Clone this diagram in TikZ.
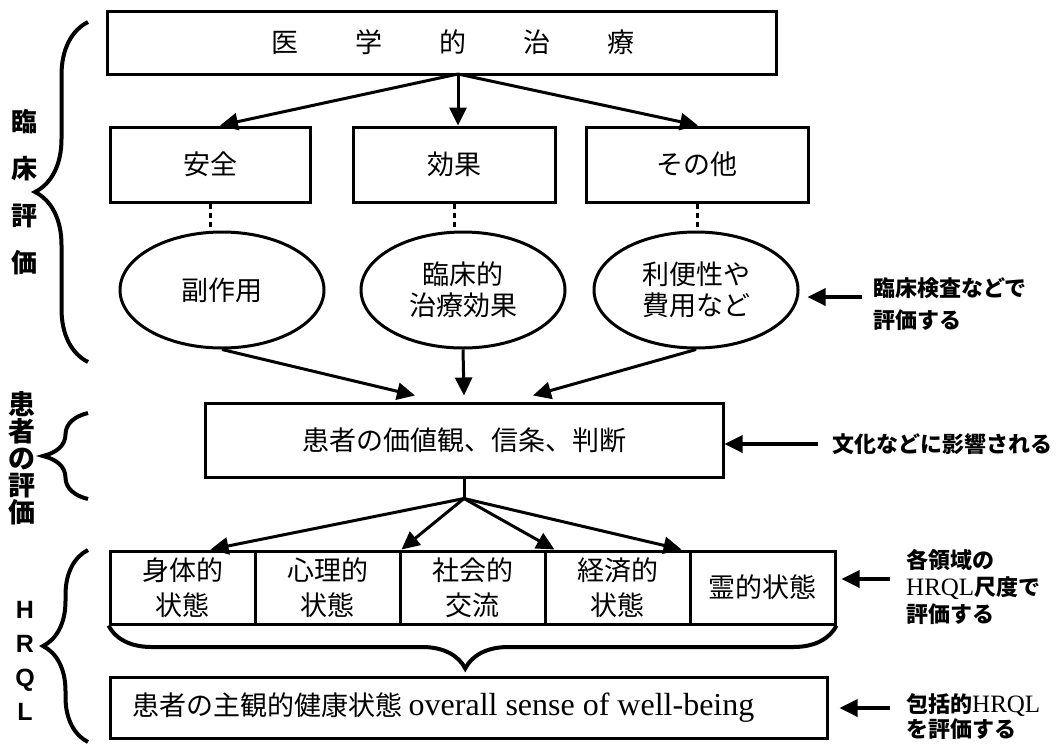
\documentclass[tikz,border=0pt]{standalone}
\usepackage{fontspec}
\setmainfont{Noto Sans CJK JP}
\newfontfamily\romanfont{Liberation Serif}
\newfontfamily\headfont{Liberation Sans}
\usetikzlibrary{positioning,chains,shapes.geometric,arrows.meta,decorations.pathreplacing}
\newcommand{\boxsize}{\fontsize{27pt}{31pt}\selectfont}
\tikzset{
  block/.style={ % plain rectangle with text
    draw, rectangle, line width=3pt, inner sep=0pt, align=center,
    font=\boxsize
  },
  oval/.style={ % ellipse of the evaluation row
    draw, ellipse, line width=3pt, inner sep=0pt, align=center,
    minimum width=204pt, minimum height=116pt, font=\boxsize
  },
  brick/.style={ % one HRQL domain
    block, minimum width=145pt, minimum height=73pt,
    font=\fontsize{27pt}{35pt}\selectfont
  },
  note/.style={ % comment text on the right
    anchor=west, inner sep=0pt, align=left,
    font=\bfseries\fontsize{22pt}{27pt}\selectfont
  },
  side/.style={ % vertical label on the left
    inner sep=0pt, align=center
  },
  bracket/.style={
    line width=4pt, decorate,
    decoration={brace, amplitude=#1}
  },
  dots/.style={line width=3pt, dash pattern=on 5pt off 4pt},
  flow/.style={line width=3pt, ->}
}
\begin{document}
\begin{tikzpicture}[x=1pt, y=-1pt, >={Triangle[length=18pt,width=17pt]}]
  \useasboundingbox (0,0) rectangle (1062,744);

  % clinical evaluation
  \node[block, minimum width=669pt, minimum height=63pt] (treat) at (442,42.5)
    {\hspace*{22pt}医\hspace{57pt}学\hspace{57pt}的\hspace{57pt}治\hspace{57pt}療};
  \node[block, minimum width=200pt, minimum height=75pt] (safe) at (210,164.5) {安全};
  \node[block, minimum width=202pt, minimum height=75pt] (effect) at (454,164.5) {効果};
  \node[block, minimum width=222pt, minimum height=75pt] (other) at (697,164.5) {その他};
  \node[oval] (side) at (222,290) {副作用};
  \node[oval] (clin) at (463,290) {臨床的\\治療効果};
  \node[oval] (conv) at (696,290) {利便性や\\費用など};

  \coordinate (split) at (458,74);
  \draw[flow] (split) -- ([xshift=10pt]safe.north);
  \draw[flow] (split) -- (split |- effect.north);
  \draw[flow] (split) -- ([xshift=1pt]other.north);
  \foreach \a/\b in {safe/side, effect/clin, other/conv}
    \draw[dots] (\a.south) -- (\a.south |- \b.north);

  % patient's values
  \node[block, minimum width=518pt, minimum height=74pt] (patient) at (464,440)
    {患者の価値観、信条、判断};
  \draw[flow] (side.south) -- ([xshift=-49pt,yshift=6pt]patient.north);
  \draw[flow] (clin.south) -- ([yshift=6pt]patient.north);
  \draw[flow] (conv.south) -- ([xshift=69pt,yshift=6pt]patient.north);

  % HRQL domains
  \coordinate (fan) at ([yshift=-20pt]patient.south);
  \draw[line width=3pt] (patient.south) -- (fan);
  \begin{scope}[start chain=going right, node distance=-3pt]
    \node[brick, on chain] (phys) at (182.5,587.5) {身体的\\状態};
    \node[brick, on chain] (psych) {心理的\\状態};
    \node[brick, on chain] (social) {社会的\\交流};
    \node[brick, on chain] (econ) {経済的\\状態};
    \node[brick, on chain] (spirit) {霊的状態};
  \end{scope}
  \draw[flow] (fan) -- ([xshift=28pt]phys.north);
  \draw[flow] (fan) -- (psych.north east);
  \draw[flow] (fan) -- ([xshift=11pt]econ.north west);
  \draw[flow] (fan) -- ([xshift=-7pt]spirit.north west);
  \draw[bracket=43pt, decoration={mirror, aspect=0.49}] (phys.south west) -- (spirit.south east);

  \node[block, minimum width=717pt, minimum height=61pt] (whole) at (468.5,707.5)
    {患者の主観的健康状態 {\romanfont\fontsize{32pt}{34pt}\selectfont overall sense of well-being}\hspace*{50pt}};

  % left labels
  \node[side, font=\bfseries\fontsize{26pt}{47pt}\selectfont] (clinlabel) at (25,192) {臨\\床\\評\\価};
  \node[side, font=\bfseries\fontsize{27pt}{27pt}\selectfont] (patlabel) at (22,458) {患\\者\\の\\評\\価};
  \node[side, font=\headfont\bfseries\fontsize{25pt}{34pt}\selectfont] (hrqllabel) at (25,661) {H\\R\\Q\\L};
  \draw[bracket=53pt] (88,362) -- (88,22);
  \draw[bracket=45pt] (88,499) -- (88,413);
  \draw[bracket=45pt] (88,742) -- (88,550);

  % notes on the right
  \node[note, font=\bfseries\fontsize{22pt}{32pt}\selectfont] (note1) at (873,304) {臨床検査などで\\評価する};
  \coordinate (tail1) at (862,297);
  \draw[flow, line width=3.5pt, shorten >=8pt] (tail1) -- (tail1 -| conv.east);
  \node[note] (note2) at (832,444) {文化などに影響される};
  \coordinate (tail2) at (818,444);
  \draw[flow, line width=3.5pt] (tail2) -- (tail2 -| patient.east);
  \node[note] (note3) at (906,587) {各領域の\\{\romanfont\mdseries\fontsize{25pt}{27pt}\selectfont HRQL}尺度で\\評価する};
  \coordinate (tail3) at (890,579);
  \draw[flow, line width=3.5pt, shorten >=5pt] (tail3) -- (tail3 -| spirit.east);
  \node[note, font=\bfseries\fontsize{22pt}{25pt}\selectfont] (note4) at (906,717) {包括的{\romanfont\mdseries\fontsize{25pt}{25pt}\selectfont HRQL}\\を評価する};
  \coordinate (tail4) at (890,708);
  \draw[flow, line width=3.5pt, shorten >=11pt] (tail4) -- (tail4 -| whole.east);
\end{tikzpicture}
\end{document}
